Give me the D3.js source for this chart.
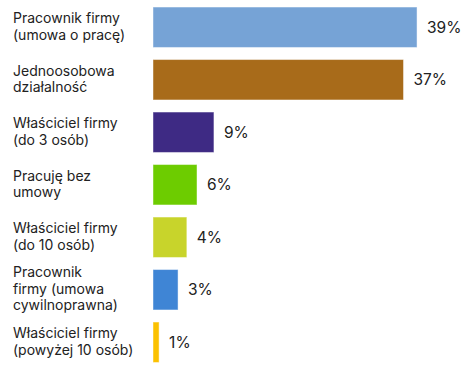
<!DOCTYPE html>
<html>
<head>
<meta charset="utf-8">
<script src="https://cdn.jsdelivr.net/npm/d3@7"></script>
<style>
  body { margin: 0; background: #fff; }
  svg { display: block; font-family: Inter, "Liberation Sans", Arial, sans-serif; }
</style>
</head>
<body>
<div id="chart"></div>
<script>
// categories, one line per array entry
const categories = [
  ["Pracownik firmy", "(umowa o pracę)"],
  ["Jednoosobowa", "działalność"],
  ["Właściciel firmy", "(do 3 osób)"],
  ["Pracuję bez", "umowy"],
  ["Właściciel firmy", "(do 10 osób)"],
  ["Pracownik", "firmy (umowa", "cywilnoprawna)"],
  ["Właściciel firmy", "(powyżej 10 osób)"]
];
const values = [39, 37, 9, 6.5, 5, 3.7, 0.9];
const valueLabels = ["39%", "37%", "9%", "6%", "4%", "3%", "1%"];
const colors = ["#76a3d6", "#a86b1a", "#3e2a84", "#6dcc00", "#c8d42b", "#3f85d5", "#fbc100"];

const width = 466, height = 369;

const svg = d3.select("#chart")
  .append("svg")
  .attr("width", width)
  .attr("height", height);

const idx = d3.range(categories.length);

const y = d3.scaleBand()
  .domain(idx)
  .range([1, 368.5])
  .paddingInner(0.23)
  .paddingOuter(0.115);

const x = d3.scaleLinear()
  .domain([0, 40])
  .range([153, 423.8]);

// bars
svg.selectAll("rect.bar")
  .data(idx)
  .enter()
  .append("rect")
  .attr("class", "bar")
  .attr("x", x(0))
  .attr("y", i => y(i))
  .attr("width", i => x(values[i]) - x(0))
  .attr("height", y.bandwidth())
  .attr("fill", i => colors[i])
  .attr("stroke", "#fff")
  .attr("stroke-opacity", 0.45)
  .attr("stroke-width", 1);

// value labels
svg.selectAll("text.value")
  .data(idx)
  .enter()
  .append("text")
  .attr("class", "value")
  .attr("x", i => x(values[i]) + 10)
  .attr("y", i => y(i) + y.bandwidth() / 2)
  .attr("dy", "0.36em")
  .attr("font-size", "15.5px")
  .attr("fill", "#222")
  .text(i => valueLabels[i]);

// category labels
const lineH = 16.5;
const cat = svg.selectAll("text.cat")
  .data(idx)
  .enter()
  .append("text")
  .attr("class", "cat")
  .attr("font-size", "14px")
  .attr("fill", "#222");

cat.each(function (i) {
  const lines = categories[i];
  const mid = y(i) + y.bandwidth() / 2 + 4;
  const first = mid - (lines.length - 1) * lineH / 2;
  d3.select(this).selectAll("tspan")
    .data(lines)
    .enter()
    .append("tspan")
    .attr("x", 13)
    .attr("y", (d, k) => first + k * lineH)
    .text(d => d);
});
</script>
</body>
</html>
